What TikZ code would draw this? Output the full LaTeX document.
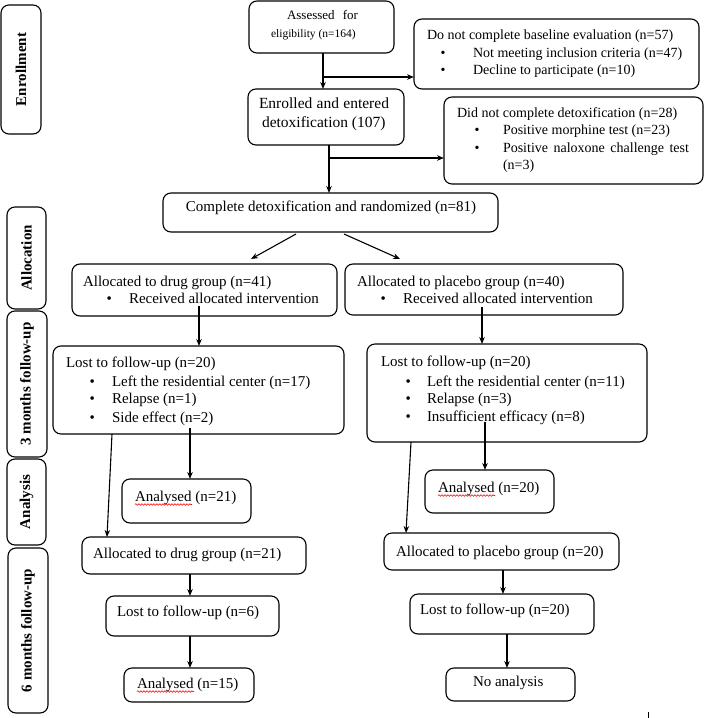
\documentclass[tikz,border=0pt]{standalone}
\usepackage{fontspec}
\setmainfont{Liberation Serif}
\usetikzlibrary{arrows.meta,calc,decorations.pathmorphing}
\tikzset{
 box/.style={draw, line width=1.1pt, rounded corners=8pt, inner sep=0pt, outer sep=0pt},
 txt/.style={inner sep=0pt, outer sep=0pt, font=\fontsize{15}{18}\selectfont},
 smalltxt/.style={font=\fontsize{14}{17}\selectfont},
 tinytxt/.style={font=\fontsize{11.5}{14}\selectfont},
 midtxt/.style={font=\fontsize{13}{15}\selectfont},
 bigtxt/.style={font=\fontsize{15.5}{18}\selectfont},
 side/.style={rotate=90, font=\bfseries\fontsize{15}{18}\selectfont, inner sep=0pt},
 arr/.style={line width=1.1pt, -{Stealth[length=7pt,width=5.5pt]}},
 wavy/.style={red, line width=0.6pt, decorate, decoration={snake, amplitude=0.8pt, segment length=3pt}}
}
\newcommand{\bx}[5]{%
 \pgfmathsetmacro{\mybw}{#4-#2}\pgfmathsetmacro{\mybh}{#5-#3}%
 \node[box, minimum width=\mybw pt, minimum height=\mybh pt] (#1) at ({(#2+#4)/2},{(#3+#5)/2}) {};}
\newcommand{\tline}[5][]{\node[txt,#1,anchor=base west] (#2) at (#3,#4) {#5};}
\newcommand{\bline}[6][]{\node[txt,#1,anchor=base west] (#2b) at ({#3+#5},#4) {\textbullet};
 \node[txt,#1,anchor=base west] (#2) at ({#3+46},#4) {#6};}
\begin{document}
\begin{tikzpicture}[x=1pt,y=-1pt]
\useasboundingbox (0,0) rectangle (705,718);
% side labels
\bx{sEnr}{1}{5}{41}{134}
\bx{sAll}{7}{207}{46}{309}
\bx{sThr}{7}{311}{47}{457}
\bx{sAna}{7}{459}{46}{545}
\bx{sSix}{8}{548}{48}{713}
\node[side] (lEnr) at (sEnr) {Enrollment};
\node[side] (lAll) at (sAll) {Allocation};
\node[side] (lThr) at (sThr) {3 months follow-up};
\node[side] (lAna) at (sAna) {Analysis};
\node[side] (lSix) at (sSix) {6 months follow-up};
% boxes
\bx{assess}{249}{1}{394}{53}
\bx{dnc}{414}{19}{699}{89}
\bx{enrol}{248}{89}{404}{145}
\bx{dnd}{444}{97}{703}{184}
\bx{comp}{163}{193}{498}{232}
\bx{adg}{72}{264}{337}{316}
\bx{apg}{345}{264}{623}{315}
\bx{ldg}{53}{346}{344}{434}
\bx{lpg}{367}{344}{647}{442}
\bx{an21}{122}{479}{251}{523}
\bx{an20}{425}{470}{554}{513}
\bx{ad21}{82}{537}{306}{574}
\bx{ap20}{384}{533}{619}{570}
\bx{l6}{106}{596}{279}{636}
\bx{l20}{410}{594}{594}{634}
\bx{an15}{124}{668}{254}{702}
\bx{noan}{446}{668}{575}{701}
% texts
\tline[midtxt]{tA1}{287}{19.5}{\makebox[71pt][s]{Assessed for}}
\tline[tinytxt]{tA2}{271}{37}{eligibility (n=164)}
\tline[bigtxt]{tE1}{259}{108.5}{\makebox[130pt][s]{Enrolled and entered}}
\tline[bigtxt]{tE2}{262}{127.5}{detoxification (107)}
\tline[smalltxt]{tC1}{427}{39.5}{Do not complete baseline evaluation (n=57)}
\bline[smalltxt]{tC2}{427}{57}{13.5}{Not meeting inclusion criteria (n=47)}
\bline[smalltxt]{tC3}{427}{74.5}{13.5}{Decline to participate (n=10)}
\tline[smalltxt]{tD1}{457}{117}{Did not complete detoxification (n=28)}
\bline[smalltxt]{tD2}{457}{134.5}{17.5}{Positive morphine test (n=23)}
\bline[smalltxt]{tD3}{457}{152}{17.5}{\makebox[186pt][s]{Positive naloxone challenge test}}
\tline[smalltxt]{tD4}{503}{169.5}{(n=3)}
\node[txt,anchor=base] (tR) at (331,211.5) {Complete detoxification and randomized (n=81)};
\tline{tG1}{83}{286.5}{Allocated to drug group (n=41)}
\bline{tG2}{83}{303.5}{23.5}{Received allocated intervention}
\tline{tP1}{357}{286.5}{Allocated to placebo group (n=40)}
\bline{tP2}{357}{303.5}{23.5}{Received allocated intervention}
\tline{tL1}{66}{367.5}{Lost to follow-up (n=20)}
\bline{tL2}{66}{386}{23.5}{Left the residential center (n=17)}
\bline{tL3}{66}{403.5}{23.5}{Relapse (n=1)}
\bline{tL4}{66}{422.5}{23.5}{Side effect (n=2)}
\tline{tM1}{381}{366.5}{Lost to follow-up (n=20)}
\bline{tM2}{381}{386.5}{24.5}{Left the residential center (n=11)}
\bline{tM3}{381}{403.5}{24.5}{Relapse (n=3)}
\bline{tM4}{381}{421.5}{24.5}{Insufficient efficacy (n=8)}
\tline{tN21}{135}{501.5}{Analysed (n=21)}
\tline{tN20}{438}{492.5}{Analysed (n=20)}
\tline{tG21}{93}{558.5}{Allocated to drug group (n=21)}
\tline{tP20}{396}{556.5}{Allocated to placebo group (n=20)}
\tline{tL6}{117}{616.5}{Lost to follow-up (n=6)}
\tline{tL20}{420}{614.5}{Lost to follow-up (n=20)}
\tline{tN15}{137}{688.5}{Analysed (n=15)}
\tline{tNo}{473}{686.5}{No analysis}
% spell-check underlines
\draw[wavy] ([yshift=-3pt]tN21.base west) -- ++(57,0);
\draw[wavy] ([yshift=-3pt]tN20.base west) -- ++(57,0);
\draw[wavy] ([yshift=-3pt]tN15.base west) -- ++(57,0);
% connectors
\coordinate (j1) at (323,77);
\coordinate (j2) at (329,158);
\draw[arr] (assess.south -| j1) -- (enrol.north -| j1);
\draw[arr] (j1) -- (dnc.west |- j1);
\draw[arr] (enrol.south -| j2) -- (comp.north -| j2);
\draw[arr] (j2) -- (dnd.west |- j2);
\coordinate (p5s) at (296,234); \coordinate (p5e) at (251,259);
\coordinate (p6s) at (344,234); \coordinate (p6e) at (400,259);
\draw[arr] (p5s) -- (p5e);
\draw[arr] (p6s) -- (p6e);
\coordinate (p7) at (199,306);
\draw[arr] (p7) -- (p7 |- ldg.north);
\coordinate (p8) at (482,307);
\draw[arr] (p8) -- (p8 |- lpg.north);
\coordinate (p9) at (190,428);
\draw[arr] (p9) -- (p9 |- an21.north);
\coordinate (p11) at (485,422);
\draw[arr] (p11) -- (p11 |- an20.north);
\coordinate (x10s) at (112,0); \coordinate (x10e) at (107,0);
\draw[arr] (ldg.south -| x10s) -- (ad21.north -| x10e);
\coordinate (x12s) at (411,0); \coordinate (x12e) at (406,0);
\draw[arr] (lpg.south -| x12s) -- (ap20.north -| x12e);
\coordinate (x190) at (190,0);
\draw[arr] (ad21.south -| x190) -- (l6.north -| x190);
\draw[arr] (l6.south -| x190) -- (an15.north -| x190);
\coordinate (x503) at (503,0); \coordinate (x507) at (507,0);
\draw[arr] (ap20.south -| x503) -- (l20.north -| x503);
\draw[arr] (l20.south -| x507) -- (noan.north -| x507);
% stray tick
\draw[line width=0.8pt] (648,712) -- (648,718);
\end{tikzpicture}
\end{document}
